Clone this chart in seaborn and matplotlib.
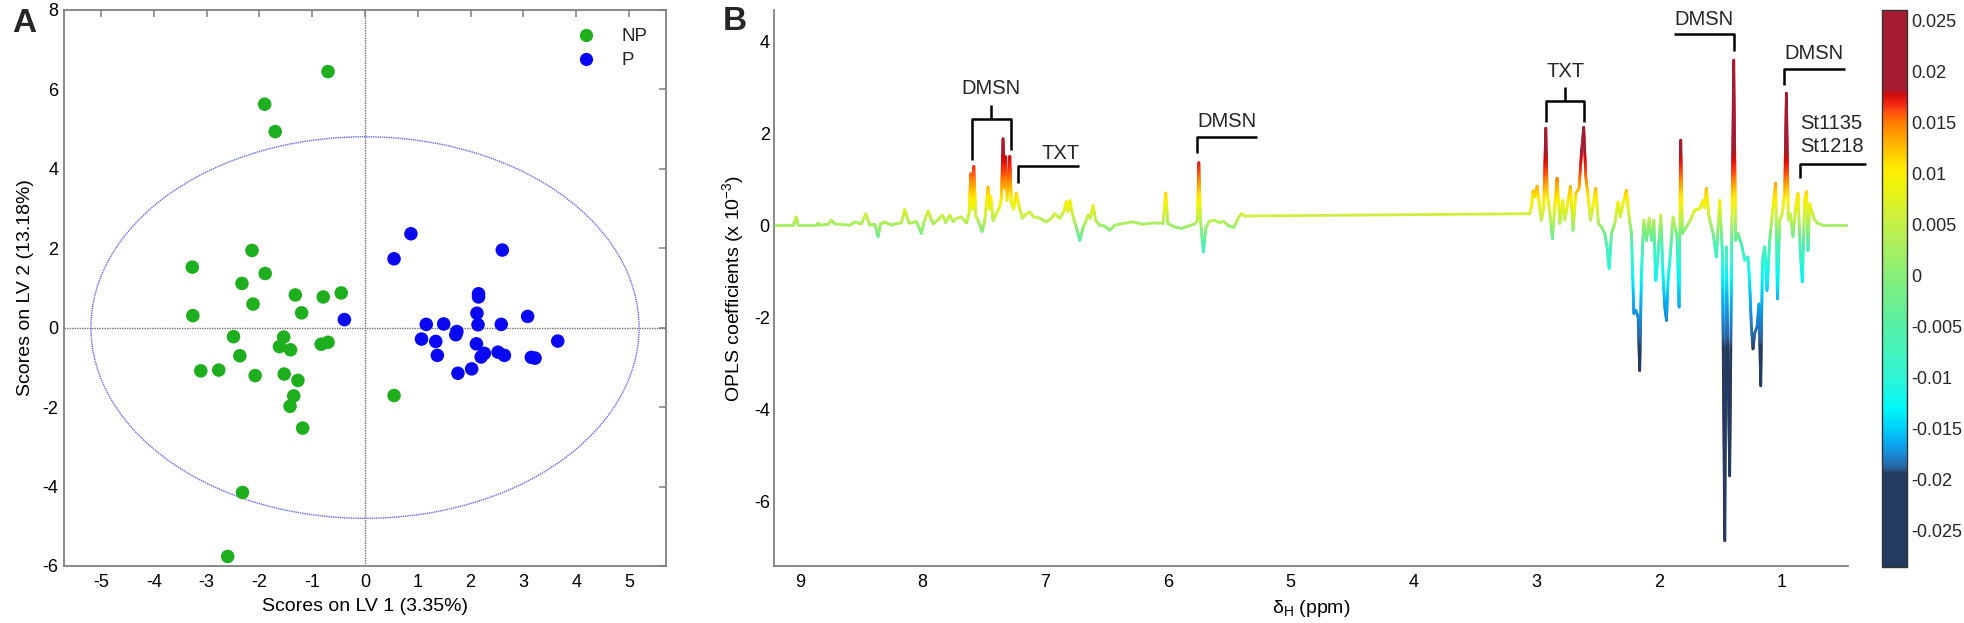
import numpy as np
import pandas as pd
import matplotlib
matplotlib.use('Agg')
import matplotlib.pyplot as plt
import seaborn as sns
from matplotlib.collections import LineCollection
from matplotlib.colors import LinearSegmentedColormap, Normalize
from matplotlib.patches import Ellipse
from matplotlib.lines import Line2D
import matplotlib.cm as cm

sns.set_theme(style='white')
plt.rcParams['font.family'] = ['Liberation Sans', 'DejaVu Sans']
plt.rcParams['mathtext.fontset'] = 'custom'
plt.rcParams['mathtext.rm'] = 'Liberation Sans'
plt.rcParams['mathtext.it'] = 'Liberation Sans:italic'
plt.rcParams['mathtext.bf'] = 'Liberation Sans:bold'
plt.rcParams['axes.unicode_minus'] = False

# ---------------- Panel A data: OPLS-DA scores ----------------
np_lv1 = [-0.70, -1.90, -1.70, -2.14, -3.27, -1.89, -2.33, -1.32, -0.79, -0.45,
          -2.12, -1.20, -3.26, -2.49, -1.54, -1.62, -1.41, -0.83, -0.70, -2.37,
          -3.11, -2.77, -2.08, -1.53, -1.27, -1.35, -1.42, -1.18, -2.32, -2.60, 0.55]
np_lv2 = [6.44, 5.62, 4.93, 1.94, 1.52, 1.36, 1.11, 0.82, 0.77, 0.87,
          0.59, 0.37, 0.30, -0.23, -0.24, -0.48, -0.56, -0.42, -0.37, -0.71,
          -1.09, -1.07, -1.21, -1.17, -1.33, -1.72, -1.98, -2.53, -4.15, -5.76, -1.71]
p_lv1 = [0.87, 0.55, 2.60, 2.15, 2.15, -0.39, 3.08, 2.12, 1.16, 1.49,
         2.14, 2.58, 1.74, 1.72, 1.07, 1.34, 2.11, 1.37, 2.26, 2.20,
         2.52, 2.64, 3.15, 3.22, 1.76, 2.02, 3.65]
p_lv2 = [2.36, 1.73, 1.95, 0.85, 0.77, 0.20, 0.28, 0.36, 0.08, 0.09,
         0.07, 0.08, -0.10, -0.18, -0.29, -0.35, -0.41, -0.70, -0.65, -0.74,
         -0.62, -0.70, -0.75, -0.77, -1.15, -1.04, -0.34]
group_names = ['NP', 'P']
ellipse_axes = [5.19, 4.80]   # Hotelling T2 semi-axes

# ---------------- Panel B data: OPLS coefficients ----------------
ppm = [9.204, 9.054, 9.027, 9.014, 8.864, 8.851, 8.837, 8.769, 8.742, 8.715,
       8.593, 8.552, 8.498, 8.462, 8.430, 8.389, 8.362, 8.343, 8.308, 8.253,
       8.212, 8.172, 8.145, 8.109, 8.050, 8.009, 7.990, 7.955, 7.914, 7.873,
       7.838, 7.811, 7.778, 7.751, 7.724, 7.683, 7.642, 7.621, 7.607, 7.593,
       7.582, 7.566, 7.539, 7.515, 7.493, 7.466, 7.452, 7.444, 7.425, 7.398,
       7.371, 7.357, 7.344, 7.330, 7.322, 7.311, 7.300, 7.289, 7.276, 7.257,
       7.235, 7.213, 7.186, 7.167, 7.126, 7.094, 7.058, 6.990, 6.950, 6.923,
       6.882, 6.849, 6.828, 6.814, 6.800, 6.773, 6.746, 6.719, 6.692, 6.664,
       6.651, 6.632, 6.610, 6.589, 6.556, 6.515, 6.474, 6.434, 6.366, 6.284,
       6.203, 6.122, 6.040, 6.018, 6.002, 5.945, 5.891, 5.836, 5.782, 5.760,
       5.749, 5.736, 5.722, 5.711, 5.692, 5.665, 5.627, 5.584, 5.546, 5.502,
       5.464, 5.429, 5.402, 5.375,
       3.053, 3.039, 3.025, 3.009, 2.993, 2.977, 2.958, 2.939, 2.922, 2.911,
       2.890, 2.868, 2.849, 2.830, 2.808, 2.786, 2.767, 2.746, 2.721, 2.700,
       2.678, 2.651, 2.632, 2.613, 2.596, 2.577, 2.558, 2.537, 2.515, 2.493,
       2.469, 2.442, 2.423, 2.406, 2.387, 2.360, 2.333, 2.314, 2.292, 2.265,
       2.243, 2.224, 2.205, 2.189, 2.170, 2.157, 2.143, 2.124, 2.102, 2.080,
       2.061, 2.042, 2.026, 2.007, 1.985, 1.966, 1.953, 1.939, 1.926, 1.907,
       1.885, 1.853, 1.836, 1.823, 1.809, 1.777, 1.744, 1.709, 1.668, 1.641,
       1.627, 1.614, 1.592, 1.559, 1.532, 1.505, 1.483, 1.464, 1.451, 1.424,
       1.407, 1.391, 1.375, 1.356, 1.329, 1.301, 1.274, 1.261, 1.247, 1.234,
       1.220, 1.201, 1.185, 1.171, 1.157, 1.138, 1.120, 1.098, 1.071, 1.049,
       1.035, 1.016, 0.995, 0.976, 0.962, 0.946, 0.929, 0.908, 0.886, 0.867,
       0.848, 0.832, 0.813, 0.799, 0.786, 0.772, 0.750, 0.731, 0.704, 0.663,
       0.446]
coef = [0.00, 0.00, 0.18, 0.00, 0.00, 0.05, 0.00, 0.02, 0.11, 0.03,
        0.00, 0.07, 0.03, 0.25, 0.00, 0.02, -0.25, 0.03, 0.07, 0.00,
        0.04, 0.05, 0.34, 0.04, 0.08, -0.18, 0.05, 0.31, 0.03, 0.12,
        0.22, 0.06, 0.22, 0.08, 0.15, 0.18, 0.05, 0.25, 1.12, 0.35,
        1.28, 0.20, 0.05, -0.14, 0.10, 0.83, 0.35, 0.62, 0.10, 0.25,
        0.40, 0.60, 1.88, 0.80, 1.49, 0.54, 0.90, 1.50, 0.50, 0.35,
        0.70, 0.40, 0.15, 0.22, 0.29, 0.18, 0.17, 0.07, 0.15, 0.25,
        0.15, 0.30, 0.51, 0.30, 0.54, 0.18, -0.05, -0.33, -0.05, 0.12,
        0.22, 0.15, 0.43, 0.10, 0.00, -0.02, -0.11, 0.00, 0.04, 0.07,
        0.02, 0.05, 0.04, 0.70, 0.04, -0.04, -0.07, -0.02, 0.03, 0.10,
        1.36, 0.15, -0.30, -0.58, -0.05, 0.08, 0.11, 0.06, 0.08, -0.02,
        -0.05, 0.15, 0.25, 0.20,
        0.25, 0.40, 0.75, 0.62, 0.85, 0.50, 0.11, 0.40, 2.11, 0.69,
        0.29, -0.29, 0.40, 1.02, 0.04, 0.54, 0.11, 0.44, 0.84, -0.11,
        0.69, 0.80, 1.56, 2.13, 1.05, 0.62, 0.11, 0.40, 0.80, 0.04,
        -0.04, -0.18, -0.47, -0.94, -0.18, 0.04, 0.51, 0.18, 0.47, 0.76,
        0.18, -0.18, -1.92, -1.85, -2.00, -3.16, -1.05, 0.11, -0.33, 0.15,
        -0.33, 0.11, -1.20, -0.62, 0.22, -1.13, -1.78, -2.07, -1.20, -0.62,
        0.18, -0.25, -1.78, 1.85, -0.18, -0.04, 0.11, 0.33, 0.36, 0.54,
        0.38, 0.80, 0.18, -0.18, -0.69, 0.54, -0.62, -6.86, -0.47, -5.45,
        -0.33, 3.59, -0.33, -0.18, -0.40, -0.76, -0.69, -1.27, -2.21, -2.69,
        -2.35, -2.21, -1.71, -3.49, -0.76, -0.47, -1.42, -0.33, 0.40, 0.91,
        -1.60, 0.11, 0.25, 0.69, 2.87, 0.11, 0.25, -0.25, 0.40, 0.69,
        -0.62, -1.23, 0.55, 0.73, -0.55, 0.47, 0.25, 0.11, 0.04, 0.00,
        0.00]

cbar_ticks = [0.025, 0.02, 0.015, 0.01, 0.005, 0, -0.005, -0.01, -0.015, -0.02, -0.025]
cbar_labels = ['0.025', '0.02', '0.015', '0.01', '0.005', '0', '-0.005', '-0.01', '-0.015', '-0.02', '-0.025']
ppm_ticks = [9, 8, 7, 6, 5, 4, 3, 2, 1]
coef_ticks = [-6, -4, -2, 0, 2, 4]

# ---------------- colormap (jet-like, as in reference colour bar) ----------------
vmin, vmax = -0.0286, 0.0260
def pos(v):
    return (v - vmin) / (vmax - vmin)
nodes = [(vmin, '#243A5E'), (-0.0195, '#243A5E'), (-0.0190, '#2B5E96'),
         (-0.0180, '#1E7EC8'), (-0.0165, '#0AA8F0'), (-0.0150, '#00D0FA'),
         (-0.0130, '#00F8F8'), (-0.0100, '#30F5D5'), (-0.0050, '#55F0A5'),
         (0.0, '#88EE78'), (0.005, '#C4F048'), (0.009, '#F2F20A'),
         (0.0105, '#FFEC00'), (0.012, '#FFCC00'), (0.0135, '#FFA500'),
         (0.015, '#FF7A00'), (0.016, '#FF5010'), (0.017, '#F02010'),
         (0.0178, '#CC0A0A'), (0.0183, '#A51C30'), (vmax, '#A51C30')]
cmap = LinearSegmentedColormap.from_list('oplsjet', [(pos(v), c) for v, c in nodes], N=512)
norm = Normalize(vmin=vmin, vmax=vmax)

# ---------------- figure ----------------
W, H = 1964, 623
fig = plt.figure(figsize=(W / 100, H / 100), dpi=100)

def frac_box(l, r, t, b):
    return [l / W, (H - b) / H, (r - l) / W, (b - t) / H]

gray = '#808080'

# Panel A
axA = fig.add_axes(frac_box(64, 666, 9.6, 566))
df = pd.DataFrame({
    'lv1': np_lv1 + p_lv1,
    'lv2': np_lv2 + p_lv2,
    'group': [group_names[0]] * len(np_lv1) + [group_names[1]] * len(p_lv1),
})
palette = {'NP': '#1DAF1D', 'P': '#0808F2'}
sns.scatterplot(data=df, x='lv1', y='lv2', hue='group', palette=palette, s=95,
                edgecolor='none', linewidth=0, ax=axA, zorder=3, legend=False)
axA.add_patch(Ellipse((0, 0), 2 * ellipse_axes[0], 2 * ellipse_axes[1], fill=False,
                      edgecolor='#6666EE', lw=1.0, ls=(0, (1, 0.6)), zorder=2))
axA.axhline(0, color='#707070', lw=1.0, ls=(0, (1, 0.8)), zorder=1)
axA.axvline(0, color='#707070', lw=1.0, ls=(0, (1, 0.8)), zorder=1)
axA.set_xlim(-5.7, 5.7)
axA.set_ylim(-6, 8)
axA.set_xticks(range(-5, 6))
axA.set_yticks(range(-6, 9, 2))
for s in axA.spines.values():
    s.set_color(gray)
    s.set_linewidth(1.3)
axA.tick_params(direction='in', top=True, right=True, length=5, width=1.1,
                color=gray, labelsize=13, labelcolor='black')
axA.tick_params(axis='x', pad=6)
axA.tick_params(axis='y', pad=4)
axA.set_xlabel('Scores on LV 1 (3.35%)', fontsize=14, labelpad=5, color='black')
axA.set_ylabel('Scores on LV 2 (13.18%)', fontsize=14, labelpad=6, color='black')
handles = [Line2D([0], [0], marker='o', ls='none', markersize=9.5,
                  markerfacecolor=palette[g], markeredgecolor='none') for g in group_names]
axA.legend(handles, group_names, loc='upper right', bbox_to_anchor=(1.0, 1.0),
           frameon=False, fontsize=13.5, handletextpad=0.9, labelspacing=0.35,
           borderaxespad=0.6)

# Panel B
axB = fig.add_axes(frac_box(774, 1848, 10, 566))
x = np.asarray(ppm, dtype=float)
y = np.asarray(coef, dtype=float)
segs, yv = [], []
for i in range(len(x) - 1):
    n = int(np.ceil(abs(y[i + 1] - y[i]) / 0.04)) + 1
    t = np.linspace(0, 1, n + 1)
    xs = x[i] + (x[i + 1] - x[i]) * t
    ys = y[i] + (y[i + 1] - y[i]) * t
    pts = np.column_stack([xs, ys])
    for a, b in zip(pts[:-1], pts[1:]):
        segs.append([a, b])
    yv.extend((ys[:-1] + ys[1:]) / 2)
yv = np.asarray(yv)
# colour of the trace follows the colour scale (correlation), monotone in coefficient
c_in = [-8.0, -3.0, -2.5, -2.0, -1.5, -1.0, -0.5, -0.2, 0.0, 0.2, 0.5, 0.8, 1.1, 1.4, 1.8, 5.0]
c_out = [-0.028, -0.0205, -0.019, -0.0175, -0.0155, -0.012, -0.0075, -0.002, 0.0022,
         0.0055, 0.0095, 0.0128, 0.0158, 0.0175, 0.019, 0.025]
cval = np.interp(yv, c_in, c_out)
lc = LineCollection(segs, colors=cmap(norm(cval)), linewidths=2.0, capstyle='round',
                    joinstyle='round', zorder=3)
axB.add_collection(lc)
axB.set_xlim(9.21, 0.46)
axB.set_ylim(-7.41, 4.68)
axB.set_xticks(ppm_ticks)
axB.set_yticks(coef_ticks)
axB.spines['top'].set_visible(False)
axB.spines['right'].set_visible(False)
for k in ['left', 'bottom']:
    axB.spines[k].set_color(gray)
    axB.spines[k].set_linewidth(1.3)
axB.tick_params(direction='in', length=7, width=1.1, color=gray, labelsize=13,
                labelcolor='black')
axB.tick_params(axis='x', pad=6)
axB.tick_params(axis='y', pad=3)
axB.set_xlabel(r'$\mathrm{\delta_H}$ (ppm)', fontsize=14, labelpad=5, color='black')
axB.set_ylabel(r'OPLS coefficients (x 10$^{-3}$)', fontsize=14, labelpad=6, color='black')

# annotations (text + bracket)
afs = 14.5
def bracket(ax, pts):
    xs_, ys_ = zip(*pts)
    ax.plot(xs_, ys_, color='black', lw=1.8, solid_capstyle='butt', clip_on=False, zorder=4)

axB.text(7.44, 2.97, 'DMSN', ha='center', va='center', fontsize=afs)
bracket(axB, [(7.593, 1.42), (7.593, 2.32), (7.283, 2.32), (7.283, 1.63)])
bracket(axB, [(7.44, 2.32), (7.44, 2.62)])
axB.text(6.876, 1.57, 'TXT', ha='center', va='center', fontsize=afs)
bracket(axB, [(7.222, 0.92), (7.222, 1.29), (6.725, 1.29)])
axB.text(5.52, 2.25, 'DMSN', ha='center', va='center', fontsize=afs)
bracket(axB, [(5.76, 1.56), (5.76, 1.91), (5.275, 1.91)])
axB.text(2.762, 3.34, 'TXT', ha='center', va='center', fontsize=afs)
bracket(axB, [(2.922, 2.25), (2.922, 2.71), (2.613, 2.71), (2.613, 2.25)])
bracket(axB, [(2.762, 2.71), (2.762, 3.01)])
axB.text(1.635, 4.48, 'DMSN', ha='center', va='center', fontsize=afs, clip_on=False)
bracket(axB, [(1.880, 4.15), (1.391, 4.15), (1.391, 3.78)])
axB.text(0.739, 3.73, 'DMSN', ha='center', va='center', fontsize=afs, clip_on=False)
bracket(axB, [(0.981, 3.05), (0.981, 3.40), (0.487, 3.40)])
axB.text(0.853, 2.22, 'St1135', ha='left', va='center', fontsize=afs, clip_on=False)
axB.text(0.853, 1.71, 'St1218', ha='left', va='center', fontsize=afs, clip_on=False)
bracket(axB, [(0.848, 1.02), (0.848, 1.33), (0.31, 1.33)])

# colour bar
cax = fig.add_axes(frac_box(1882, 1907, 10, 567))
sm = cm.ScalarMappable(norm=norm, cmap=cmap)
cb = fig.colorbar(sm, cax=cax, ticks=cbar_ticks)
cb.ax.set_yticklabels(cbar_labels)
cb.outline.set_edgecolor('#333333')
cb.outline.set_linewidth(1.0)
cb.ax.tick_params(direction='in', left=True, right=True, length=4, width=1.0,
                  color='#222222', labelsize=13, pad=3)

# panel letters
fig.text(24 / W, 1 - 23 / H, 'A', fontsize=24, fontweight='bold', ha='center', va='center')
fig.text(735 / W, 1 - 22 / H, 'B', fontsize=24, fontweight='bold', ha='center', va='center')

fig.savefig('out.png', dpi=100)
